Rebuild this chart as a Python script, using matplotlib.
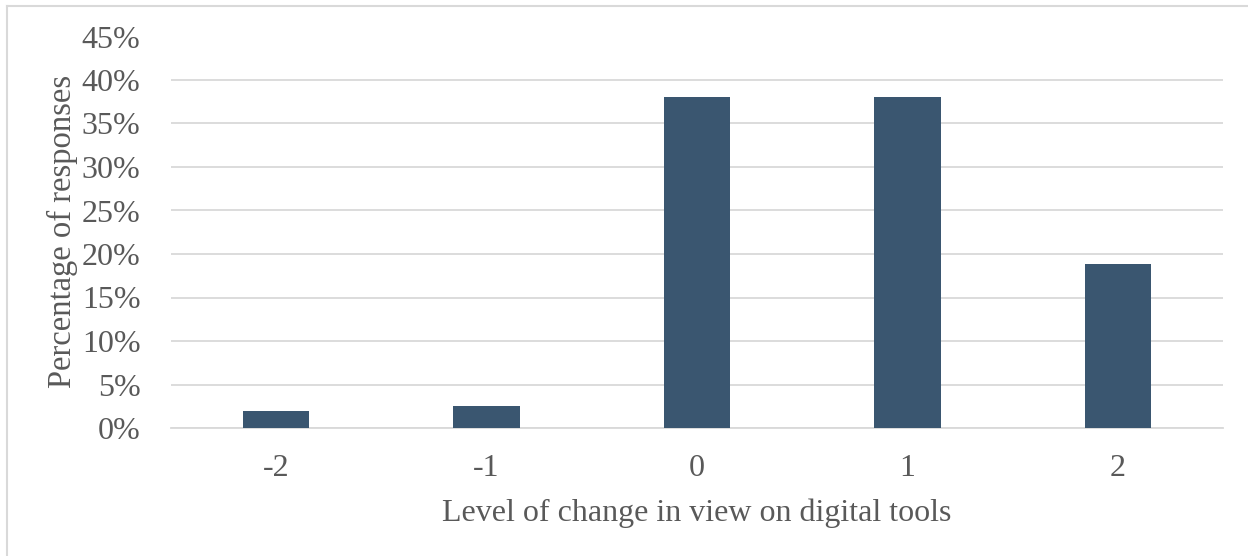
import matplotlib
matplotlib.use("Agg")
import matplotlib.pyplot as plt
from matplotlib.lines import Line2D
from matplotlib.ticker import PercentFormatter, MultipleLocator

levels = ["-2", "-1", "0", "1", "2"]
shares = [1.9, 2.5, 38.1, 38.1, 18.8]

bar_color = "#3A5670"
text_color = "#595959"
grid_color = "#D9D9D9"

plt.rcParams["font.family"] = ["Liberation Serif", "DejaVu Serif"]

W, H = 1248, 556
fig = plt.figure(figsize=(W / 100, H / 100), dpi=100)
ax = fig.add_axes([171 / W, 1 - 428 / H, (1223 - 171) / W, (428 - 36.5) / H])

x = range(len(levels))
ax.bar(x, shares, width=0.316, color=bar_color, zorder=3)

ax.set_xlim(-0.5, len(levels) - 0.5)
ax.set_ylim(0, 45)
ax.yaxis.set_major_locator(MultipleLocator(5))
ax.yaxis.set_major_formatter(PercentFormatter(decimals=0))
ax.set_xticks(list(x))
ax.set_xticklabels(levels)

ax.grid(axis="y", color=grid_color, linewidth=1.3, zorder=0)
for s in ["top", "right", "left"]:
    ax.spines[s].set_visible(False)
ax.spines["bottom"].set_color(grid_color)
ax.spines["bottom"].set_linewidth(1.3)
ax.tick_params(axis="both", length=0, labelsize=23, labelcolor=text_color)
ax.tick_params(axis="y", pad=22)
ax.tick_params(axis="x", pad=19)

fig.text(697 / W, 1 - 513 / H, "Level of change in view on digital tools",
         ha="center", va="center", fontsize=23, color=text_color)
fig.text(62 / W, 1 - 231 / H, "Percentage of responses", rotation=90,
         ha="center", va="center", fontsize=23.5, color=text_color)

# light frame along the top and left of the figure
fig.add_artist(Line2D([6.5 / W, 1], [1 - 5.5 / H, 1 - 5.5 / H],
                      color=grid_color, linewidth=1.5, transform=fig.transFigure))
fig.add_artist(Line2D([6.5 / W, 6.5 / W], [0, 1 - 5.5 / H],
                      color=grid_color, linewidth=1.5, transform=fig.transFigure))

fig.savefig("out.png", dpi=100)
